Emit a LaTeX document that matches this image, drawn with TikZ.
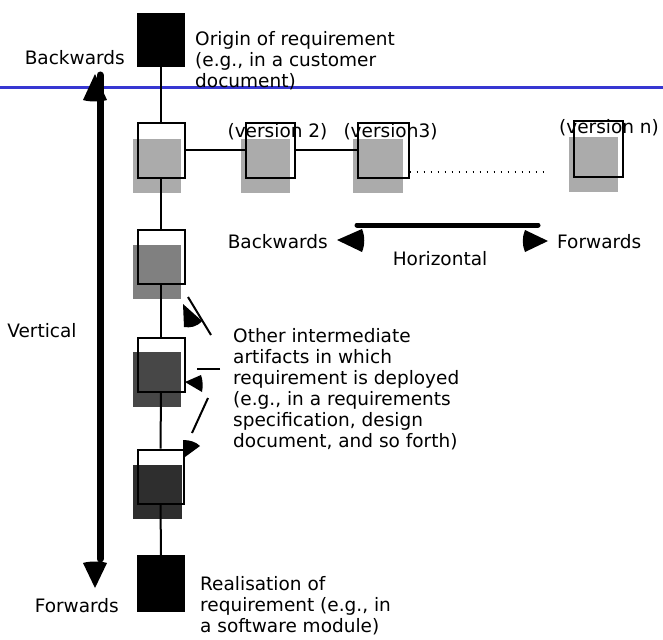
\documentclass[tikz,border=0pt]{standalone}
\usepackage{fontspec}
\setmainfont{DejaVu Sans}
\definecolor{ruleblue}{RGB}{55,55,210}
\newcommand{\diagfont}{\fontsize{18.5}{21}\selectfont}
\begin{document}
\begin{tikzpicture}[x=1pt,y=-1pt,
  every node/.style={font=\diagfont, inner sep=0pt},
  artifact/.style={draw, line width=2pt, minimum width=47pt, minimum height=54pt},
  endbox/.style={fill=black, minimum width=48pt, minimum height=54pt},
  stipple/.style={minimum width=48pt, minimum height=54pt},
  link/.style={line width=2pt}]
\useasboundingbox (0,0) rectangle (663,639);
\coordinate (rule west) at (0,87.5);
\coordinate (rule east) at (663,87.5);
\path[draw,ruleblue,line width=2.5pt] (rule west) -- (rule east);
\node[stipple, fill=black!33] (s1) at (157,166) {};
\node[stipple, fill=black!33, minimum width=49pt] (s2) at (265.5,166) {};
\node[stipple, fill=black!33, minimum width=50pt] (s3) at (378,166) {};
\node[stipple, fill=black!33, minimum width=49pt, minimum height=55pt] (sn) at (593.5,164.5) {};
\node[stipple, fill=black!50] (t1) at (157,272) {};
\node[stipple, fill=black!72, minimum height=55pt] (t2) at (157,379.5) {};
\node[stipple, fill=black!82, minimum width=49pt] (t3) at (157.5,492) {};
\node[endbox] (origin) at (161,40) {};
\node[artifact] (v1) at (161,150.5) {};
\node[artifact, minimum width=49pt] (v2) at (270,150.5) {};
\node[artifact, minimum width=51pt] (v3) at (383,150.5) {};
\node[artifact, minimum width=49pt, minimum height=55pt] (vn) at (598,149) {};
\node[artifact] (a1) at (161,257) {};
\node[artifact] (a2) at (161,365) {};
\node[artifact, minimum width=46pt] (a3) at (160.5,476.5) {};
\node[endbox, minimum height=57pt] (realisation) at (161,583.5) {};
\path[draw,link] (origin) -- (v1);
\path[draw,link] (v1) -- (a1);
\path[draw,link] (a1) -- (a2);
\path[draw,link] (a2) -- (a3);
\path[draw,link] (a3) -- (realisation);
\path[draw,link] (v1) -- (v2);
\path[draw,link] (v2) -- (v3);
\coordinate (dots end) at (547,172);
\path[draw,line width=1.8pt,dash pattern=on 1.8pt off 5.2pt] (v3.east |- dots end) -- (dots end);
\coordinate (vert top) at (100,75);
\coordinate (vert bottom) at (100,559);
\path[draw,line width=7pt,line cap=round] (vert top) -- (vert bottom);
\fill (95,74) -- (107,100) .. controls (101,102) and (89,102) .. (83,100) -- cycle;
\fill (95,588) -- (83,563) .. controls (89,561) and (101,561) .. (107,563) -- cycle;
\coordinate (horiz west) at (357,225);
\coordinate (horiz east) at (538,225);
\path[draw,line width=5pt,line cap=round] (horiz west) -- (horiz east);
\fill (337,240) -- (362,229) .. controls (365,236) and (365,245) .. (362,252) -- cycle;
\fill (548,241) -- (525,230) .. controls (522,237) and (522,245) .. (525,252) -- cycle;
\node[anchor=base east] (back v) at (125,65) {Backwards};
\node[anchor=north west, align=left] (origin text) at (195,31) {Origin of requirement\\(e.g., in a customer\\document)};
\node[anchor=base] (ver2) at (277.5,138) {(version 2)};
\node[anchor=base] (ver3) at (390.5,138) {(version3)};
\node[anchor=base] (vern) at (609,134) {(version n)};
\node[anchor=base east] (back h) at (328,248) {Backwards};
\node[anchor=base west] (fwd h) at (557,248) {Forwards};
\node[anchor=base] (horiz) at (440,265) {Horizontal};
\node[anchor=base] (vert) at (42,337) {Vertical};
\node[anchor=north west, align=left] (note) at (233,328) {Other intermediate\\artifacts in which\\requirement is deployed\\(e.g., in a requirements\\specification, design\\document, and so forth)};
\node[anchor=base east] (fwd v) at (119,612) {Forwards};
\node[anchor=north west, align=left] (realisation text) at (200,576) {Realisation of\\requirement (e.g., in\\a software module)};
\coordinate (p1 from) at (211,335);
\coordinate (p1 to) at (188,297);
\path[draw,link] (p1 from) -- (p1 to);
\fill (183,304) -- (202,321) .. controls (197,327) and (190,328) .. (184,327) -- cycle;
\coordinate (p2 from) at (220,369);
\coordinate (p2 to) at (197,369);
\path[draw,link] (p2 from) -- (p2 to);
\fill (185,382) -- (201,375) .. controls (203,380) and (203,387) .. (202,392) -- cycle;
\coordinate (p3 from) at (208,398);
\coordinate (p3 to) at (192,433);
\path[draw,link] (p3 from) -- (p3 to);
\fill (183,440) .. controls (190,440) and (196,442) .. (200,446) -- (185,457) -- (183,457) -- cycle;
\end{tikzpicture}
\end{document}
